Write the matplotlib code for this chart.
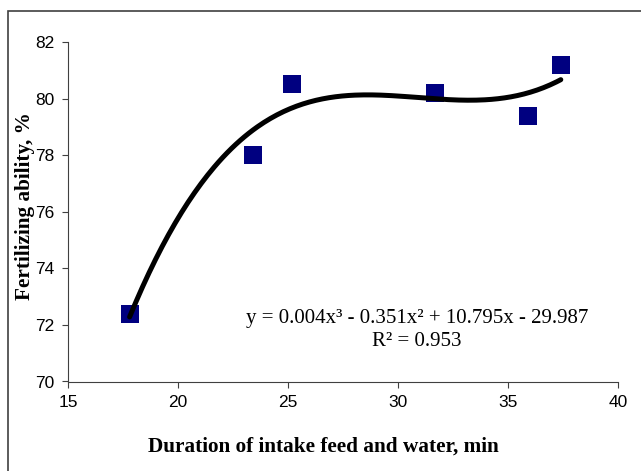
import numpy as np
import matplotlib.pyplot as plt
from matplotlib.patches import Rectangle

# data
duration = [17.8, 23.4, 25.2, 31.7, 35.9, 37.4]
fertility = [72.4, 78.0, 80.5, 80.2, 79.4, 81.2]
x_ticks = [15, 20, 25, 30, 35, 40]
y_ticks = [70, 72, 74, 76, 78, 80, 82]
equation = "y = 0.004x³ - 0.351x² + 10.795x - 29.987"
r2_text = "R² = 0.953"

W, H = 641, 471
fig = plt.figure(figsize=(W / 100, H / 100), dpi=100)
ax = fig.add_axes([68 / W, 1 - 381.5 / H, 550 / W, 339.5 / H])

# outer chart-area border (only left/top visible in the original crop)
fig.patches.append(Rectangle((8 / W, -0.1), 1.2, 1 - 11 / H + 0.1,
                             transform=fig.transFigure, fill=False,
                             edgecolor='#404040', linewidth=1.2))

# cubic trendline fitted to the points
coef = np.polyfit(duration, fertility, 3)
xs = np.linspace(min(duration), max(duration), 200)
ax.plot(xs, np.polyval(coef, xs), color='black', linewidth=3.6,
        solid_capstyle='round', zorder=3)
ax.plot(duration, fertility, 's', color='#000080', markersize=13,
        markeredgewidth=0, zorder=2)

ax.set_xlim(15, 40)
ax.set_ylim(70, 82)
ax.set_xticks(x_ticks)
ax.set_yticks(y_ticks)
for s in ['top', 'right']:
    ax.spines[s].set_visible(False)
for s in ['left', 'bottom']:
    ax.spines[s].set_color('#404040')
ax.tick_params(direction='out', length=4, color='#404040',
               labelsize=12.5, pad=6)
for lab in ax.get_xticklabels() + ax.get_yticklabels():
    lab.set_fontfamily('Liberation Sans')

fig.text(323 / W, 1 - 447 / H, "Duration of intake feed and water, min",
         ha='center', va='center', family='Liberation Serif',
         fontweight='bold', fontsize=15.3)
fig.text(25 / W, 1 - 206 / H, "Fertilizing ability, %", rotation=90,
         ha='center', va='center', family='Liberation Serif',
         fontweight='bold', fontsize=15.3)

fig.text(417 / W, 1 - 318 / H, equation, ha='center', va='center',
         family='Liberation Serif', fontsize=15)
fig.text(417 / W, 1 - 342 / H, r2_text, ha='center', va='center',
         family='Liberation Serif', fontsize=15)

fig.savefig('out.png', dpi=100)
